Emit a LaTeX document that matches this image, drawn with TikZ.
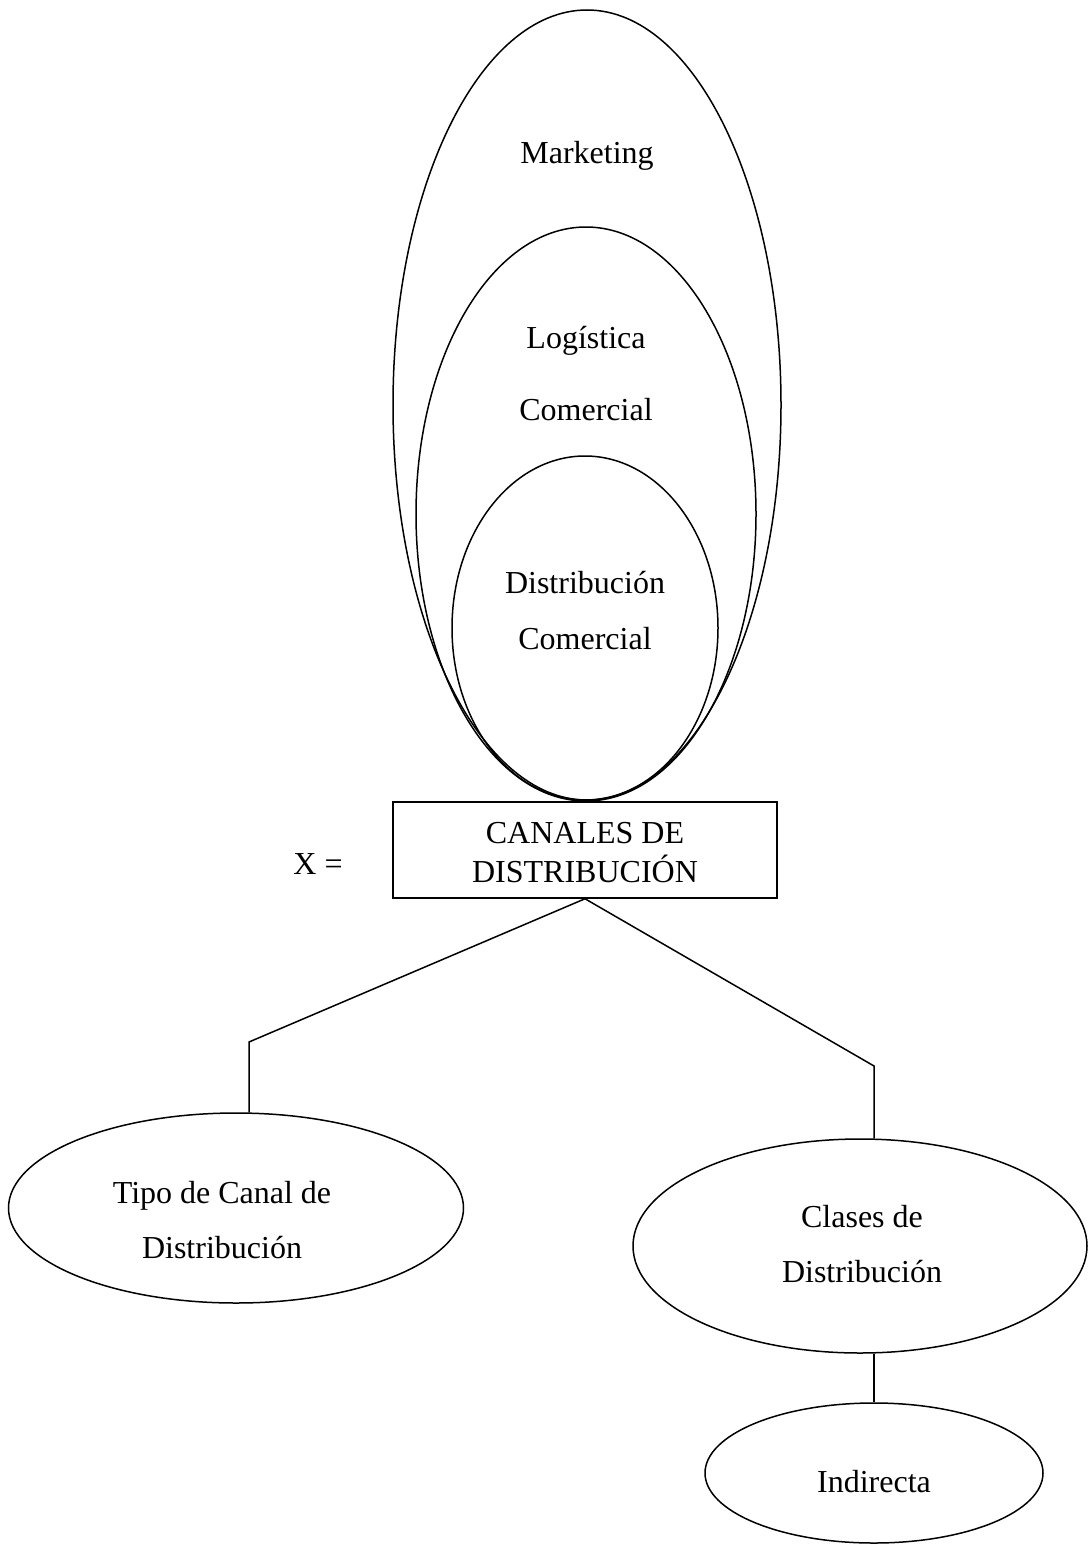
\documentclass[tikz,border=0pt]{standalone}
\usepackage{fontspec}
\setmainfont{Liberation Serif}
\usetikzlibrary{shapes.geometric}
\begin{document}
\begin{tikzpicture}[x=1pt,y=-1pt,
  shape line/.style={draw=black,line width=1.5pt},
  oval/.style={shape line,ellipse,inner sep=0pt},
  lbl/.style={anchor=base,inner sep=0pt,font=\fontsize{32}{38}\selectfont},
  link/.style={line width=1.5pt,line join=miter}]
\useasboundingbox (0,0) rectangle (1089,1544);

% nested ellipses
\node[oval,minimum width=388pt,minimum height=790pt] (mkt) at (587,405) {};
\node[oval,minimum width=340pt,minimum height=574pt] (log) at (586,514) {};
\node[oval,minimum width=266pt,minimum height=344pt] (dist) at (585,628) {};
\node[lbl] (tmkt) at (587,163) {Marketing};
\node[lbl] (tlog1) at (586,348) {Logística};
\node[lbl] (tlog2) at (586,420) {Comercial};
\node[lbl] (tdist1) at (585,593) {Distribución};
\node[lbl] (tdist2) at (585,649) {Comercial};

% central box
\node[shape line,rectangle,minimum width=384pt,minimum height=96pt,inner sep=0pt] (box) at (585,850) {};
\node[lbl] (tbox1) at (585,843) {CANALES DE};
\node[lbl] (tbox2) at (585,882) {DISTRIBUCIÓN};
\node[lbl] (xeq) at (318,874) {X =};

% lower ellipses
\node[oval,minimum width=455pt,minimum height=190pt] (tipo) at (236,1208) {};
\node[lbl] (ttipo1) at (222,1203) {Tipo de Canal de};
\node[lbl] (ttipo2) at (222,1258) {Distribución};
\node[oval,minimum width=454pt,minimum height=214pt] (clases) at (860,1246) {};
\node[lbl] (tcl1) at (862,1227) {Clases de};
\node[lbl] (tcl2) at (862,1282) {Distribución};
\node[oval,minimum width=338pt,minimum height=140pt] (ind) at (874,1473) {};
\node[lbl] (tind) at (874,1492) {Indirecta};

% connectors
\coordinate (lc) at (249,1042);
\coordinate (rc) at (874,1066);
\draw[link] (box.south) -- (lc) -- (lc |- tipo.north);
\draw[link] (box.south) -- (rc) -- (rc |- clases.north);
\draw[link] (clases.south -| ind.north) -- (ind.north);
\end{tikzpicture}
\end{document}
